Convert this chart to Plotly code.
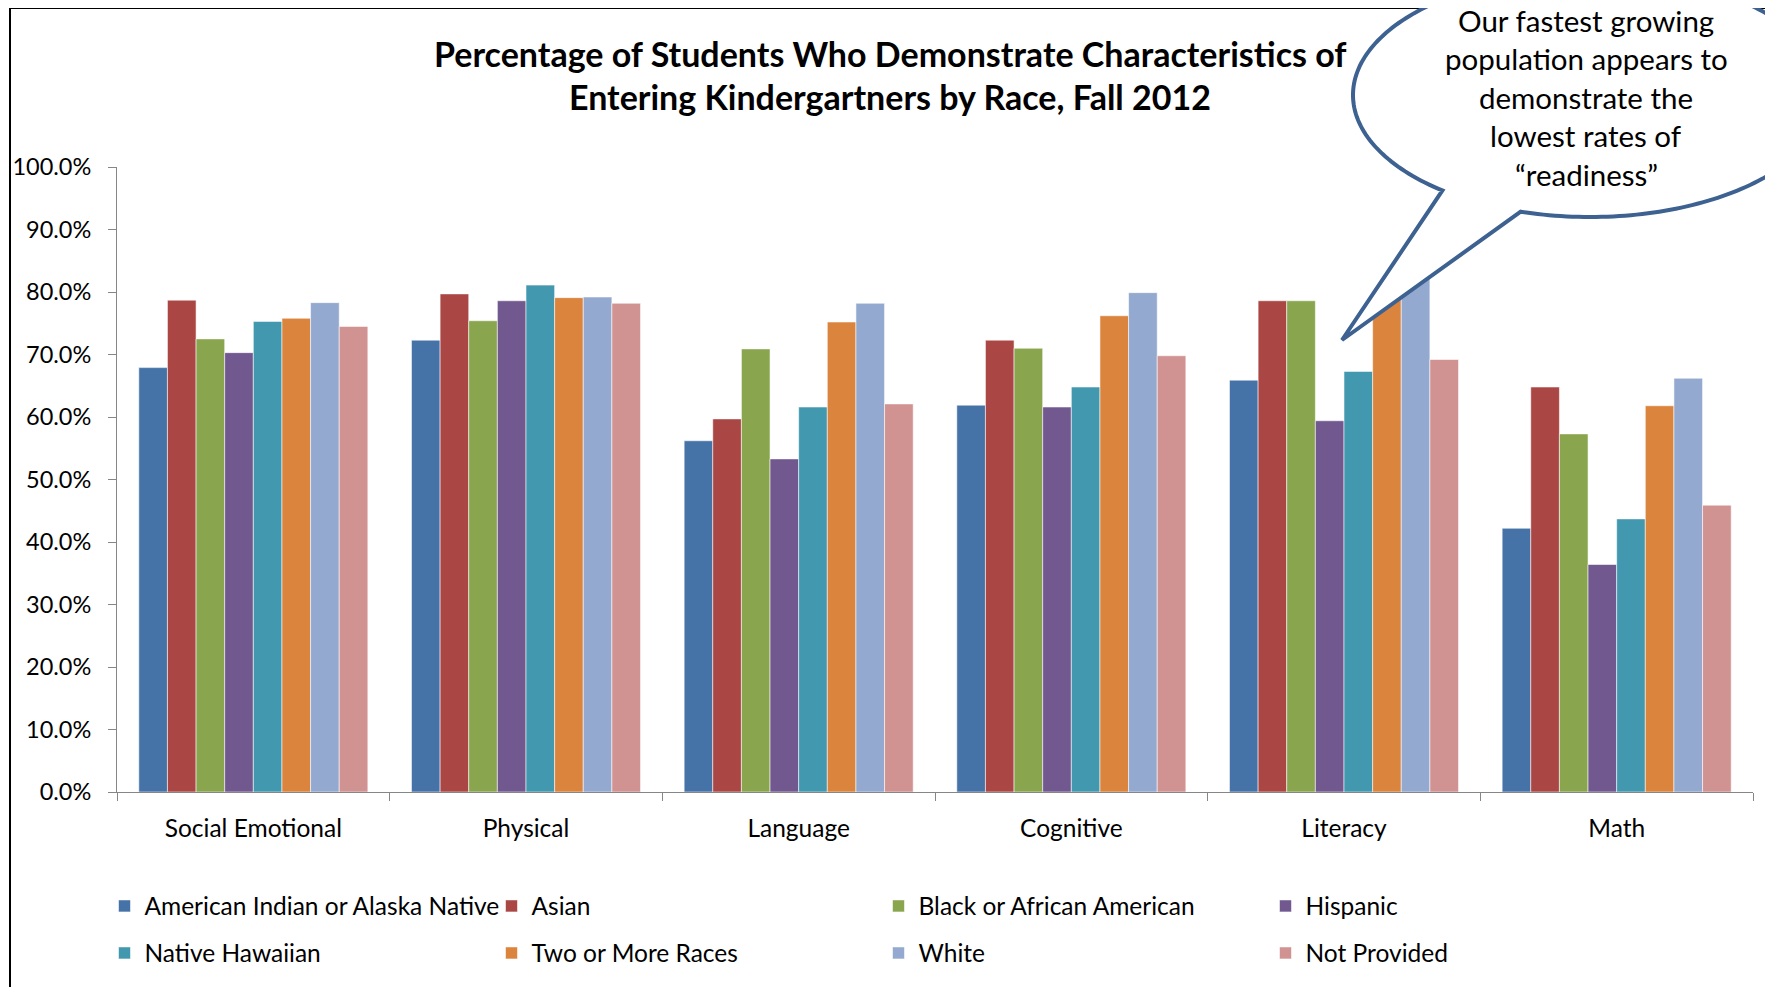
import numpy as np
import plotly.graph_objects as go

# ---------------- data ----------------
categories = ["Social Emotional", "Physical", "Language", "Cognitive", "Literacy", "Math"]
american_indian = [0.679, 0.723, 0.562, 0.619, 0.659, 0.422]
asian = [0.787, 0.797, 0.597, 0.723, 0.786, 0.648]
black = [0.725, 0.754, 0.709, 0.710, 0.786, 0.573]
hispanic = [0.703, 0.786, 0.533, 0.616, 0.594, 0.364]
native_hawaiian = [0.753, 0.811, 0.616, 0.648, 0.673, 0.437]
two_or_more = [0.758, 0.791, 0.752, 0.762, 0.800, 0.618]
white = [0.783, 0.792, 0.782, 0.799, 0.830, 0.662]
not_provided = [0.745, 0.782, 0.621, 0.698, 0.692, 0.459]

series_names = ["American Indian or Alaska Native", "Asian", "Black or African American", "Hispanic",
                "Native Hawaiian", "Two or More Races", "White", "Not Provided"]
series_values = [american_indian, asian, black, hispanic, native_hawaiian, two_or_more, white, not_provided]
series_colors = ["#4572A7", "#AA4643", "#89A54E", "#71588F", "#4198AF", "#DB843D", "#93A9CF", "#D19392"]

title_lines = ["Percentage of Students Who Demonstrate Characteristics of",
               "Entering Kindergartners by Race, Fall 2012"]
callout_lines = ["Our fastest growing", "population appears to", "demonstrate the",
                 "lowest rates of", "\u201creadiness\u201d"]

# ---------------- layout geometry (pixels) ----------------
W, H = 1773, 987
OFF = 8  # page body margin
L = 117 - OFF
T = 167 - OFF
R = W - (1753 - OFF)
B = H - (792 - OFF)
PW, PH = W - L - R, H - T - B
FONT = "Lato"


def px(x):
    return (x - OFF - L) / PW


def py(y):
    return (H - B - (y - OFF)) / PH


fig = go.Figure()
for i, (name, vals, col) in enumerate(zip(series_names, series_values, series_colors)):
    fig.add_trace(go.Bar(
        x=categories, y=vals, name=name,
        marker=dict(color=col, line=dict(color="rgba(255,255,255,0.55)", width=1)),
        legend="legend" if i < 4 else "legend2",
    ))

axis_col = "#868686"
fig.update_layout(
    width=W, height=H,
    margin=dict(l=L, r=R, t=T, b=B, autoexpand=False),
    paper_bgcolor="white", plot_bgcolor="white",
    barmode="group", bargap=0.16, bargroupgap=0,
    font=dict(family=FONT, color="black", size=24),
    xaxis=dict(showline=True, linecolor=axis_col, linewidth=1, ticks="outside",
               tickson="boundaries", ticklen=8, tickcolor=axis_col, showgrid=False,
               tickfont=dict(size=24.5), ticklabelstandoff=15),
    yaxis=dict(range=[0, 1], dtick=0.1, tickformat=".1%", showline=True, linecolor=axis_col,
               linewidth=1, ticks="outside", ticklen=8, tickcolor=axis_col, showgrid=False,
               zeroline=False, tickfont=dict(size=23.5), ticklabelstandoff=12),
    legend=dict(orientation="h", x=px(104.5), y=py(906), xanchor="left", yanchor="middle",
                entrywidth=342, entrywidthmode="pixels", font=dict(size=24.5),
                bgcolor="rgba(0,0,0,0)", itemclick=False),
    legend2=dict(orientation="h", x=px(104.5), y=py(953), xanchor="left", yanchor="middle",
                 entrywidth=342, entrywidthmode="pixels", font=dict(size=24.5),
                 bgcolor="rgba(0,0,0,0)", itemclick=False),
    showlegend=True,
)

# outer chart frame
fig.add_shape(type="rect", xref="paper", yref="paper",
              x0=px(10), x1=px(1768), y0=py(1010), y1=py(8),
              line=dict(color="black", width=2), fillcolor="rgba(0,0,0,0)", layer="above")

# title
for txt, yy in zip(title_lines, [53, 97]):
    fig.add_annotation(text="<b>" + txt + "</b>", xref="paper", yref="paper",
                       x=px(890), y=py(yy), xanchor="center", yanchor="middle",
                       showarrow=False, font=dict(size=34, family=FONT, color="black"))

# callout speech bubble
cx, cy, a, b = 1590, 95, 237, 122
t = np.radians(np.linspace(107, 128.5 - 360, 240))
ex = cx + a * np.cos(t)
ey = cy + b * np.sin(t)
pts = [(px(x), py(y)) for x, y in zip(ex, ey)]
tip = (px(1342), py(340))
path = "M " + " L ".join(f"{x:.5f},{y:.5f}" for x, y in pts)
path += f" L {tip[0]:.5f},{tip[1]:.5f} Z"
fig.add_shape(type="path", xref="paper", yref="paper", path=path,
              line=dict(color="#3D6190", width=4), fillcolor="white", layer="above")

for txt, yy in zip(callout_lines, [20.4, 58.8, 97.2, 135.7, 174.1]):
    fig.add_annotation(text=txt, xref="paper", yref="paper", x=px(1586), y=py(yy),
                       xanchor="center", yanchor="middle", showarrow=False,
                       font=dict(size=29.5, family=FONT, color="black"))

fig.write_html("out.html")
